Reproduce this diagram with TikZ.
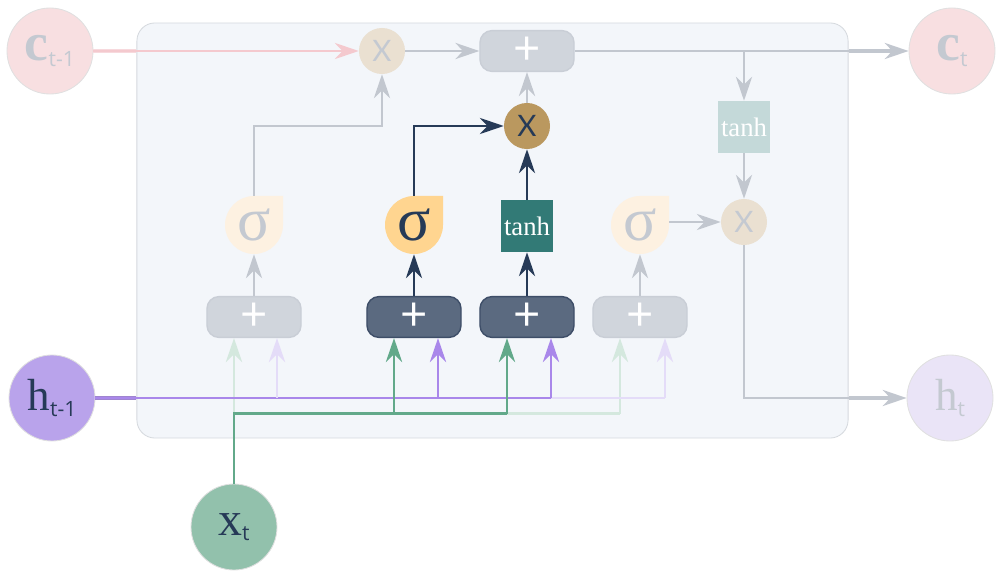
\documentclass[tikz,border=0pt]{standalone}
\usepackage{fontspec}
\setmainfont{Liberation Serif}
\newfontfamily\subfont{Open Sans}
\newfontfamily\opfont{Lato}
\usetikzlibrary{positioning, arrows.meta, calc}

\definecolor{cellbg}{HTML}{F3F6FA}
\definecolor{cellrim}{HTML}{D5D9DE}
\definecolor{navy}{HTML}{263A57}
\definecolor{fadetext}{HTML}{C4C9D1}
\definecolor{grayflow}{HTML}{C2C7CF}
\definecolor{pinkfill}{HTML}{F8DFE1}
\definecolor{pinkflow}{HTML}{F4C9CE}
\definecolor{beige}{HTML}{EAE0D1}
\definecolor{gold}{HTML}{BA985F}
\definecolor{plusfade}{HTML}{D0D5DC}
\definecolor{plusfaderim}{HTML}{C9CED6}
\definecolor{plusdark}{HTML}{5B6A80}
\definecolor{plusdarkrim}{HTML}{3E4E68}
\definecolor{sigfade}{HTML}{FDF1E1}
\definecolor{sigon}{HTML}{FFD590}
\definecolor{teal}{HTML}{327A76}
\definecolor{tealfade}{HTML}{C4D9D9}
\definecolor{lilac}{HTML}{A987EA}
\definecolor{lilacfade}{HTML}{E4DCF8}
\definecolor{hprevfill}{HTML}{B9A3EB}
\definecolor{hnextfill}{HTML}{EAE4F7}
\definecolor{sage}{HTML}{62A98A}
\definecolor{sagefade}{HTML}{D4E8DE}
\definecolor{xfill}{HTML}{92C1AC}

\tikzset{
    tip/.style={-{Stealth[length=17pt, width=11.5pt, inset=5.5pt]}},
    flow/.style={line width=2.1pt, tip},
    io/.style={circle, minimum size=2.15cm, inner sep=0pt, draw=black!12, line width=0.6pt},
    mult/.style={circle, minimum size=1.15cm, inner sep=0pt, font=\opfont\fontsize{21}{21}\selectfont},
    adder/.style={rectangle, rounded corners=0.3cm, minimum width=2.35cm, minimum height=1.02cm,
        line width=1pt, text=white, font=\subfont\fontsize{34}{34}\selectfont},
    gate/.style={circle, minimum size=1.45cm, inner sep=0pt, font=\fontsize{44}{44}\selectfont},
    squash/.style={rectangle, minimum width=1.32cm, minimum height=1.3cm, inner sep=0pt,
        text=white, font=\fontsize{19}{19}\selectfont},
    teardrop/.pic={
        \path[pic actions] (0,-29) -- (29,-29) -- (29,0) arc[start angle=0, end angle=270, radius=29] -- cycle;
    },
}

% state label: big letter with a sans subscript
\newcommand{\statevar}[3]{{\fontsize{#1}{#1}\selectfont #2}\raisebox{-4pt}{\subfont\fontsize{15}{15}\selectfont #3}}

\begin{document}
\begin{tikzpicture}[x=0.025cm, y=-0.025cm]
    \useasboundingbox (0,0) rectangle (996,571);

    % cell body
    \node[rectangle, rounded corners=0.45cm, minimum width=17.775cm, minimum height=10.375cm,
          fill=cellbg, draw=cellrim, line width=0.6pt] (cell) at (492.5,230.5) {};

    % sigmoid drops
    \pic[fill=sigfade] at (254,225) {teardrop};
    \pic[fill=sigon]   at (414,225) {teardrop};
    \pic[fill=sigfade] at (640,225) {teardrop};

    % inputs and outputs
    \node[io, fill=pinkfill, text=fadetext]  (cprev) at (50,51)   {\statevar{38}{\bfseries c}{t-1}};
    \node[io, fill=pinkfill, text=fadetext]  (cnext) at (952,51)  {\statevar{38}{\bfseries c}{t}};
    \node[io, fill=hprevfill, text=navy]     (hprev) at (52,398)  {\statevar{32}{h}{t-1}};
    \node[io, fill=hnextfill, text=fadetext] (hnext) at (950,398) {\statevar{32}{h}{t}};
    \node[io, fill=xfill, text=navy]         (xt)    at (234,527) {\statevar{34}{x}{t}};

    % pointwise ops
    \node[mult, fill=beige, text=fadetext] (fmul) at (382,51)  {X};
    \node[mult, fill=gold, text=navy]      (mmul) at (527,126) {X};
    \node[mult, fill=beige, text=fadetext] (omul) at (744,222) {X};
    \node[adder, fill=plusfade, draw=plusfaderim] (add) at (527,51) {+};

    % gates
    \node[gate, text=fadetext] (fg) at (254,225) {σ};
    \node[gate, text=navy]     (ig) at (414,225) {σ};
    \node[gate, text=fadetext] (og) at (640,225) {σ};
    \node[squash, fill=teal]     (ctanh) at (527,226) {tanh};
    \node[squash, fill=tealfade] (tout)  at (744,127) {tanh};

    \node[adder, fill=plusfade, draw=plusfaderim] (fplus) at (254,317) {+};
    \node[adder, fill=plusdark, draw=plusdarkrim] (iplus) at (414,317) {+};
    \node[adder, fill=plusdark, draw=plusdarkrim] (cplus) at (527,317) {+};
    \node[adder, fill=plusfade, draw=plusfaderim] (oplus) at (640,317) {+};

    % bus taps
    \coordinate (hf) at ($(fplus.south |- hprev)+(23,0)$);
    \coordinate (hi) at ($(iplus.south |- hprev)+(24,0)$);
    \coordinate (hc) at ($(cplus.south |- hprev)+(24,0)$);
    \coordinate (ho) at ($(oplus.south |- hprev)+(25,0)$);
    \coordinate (xbus) at ($(xt.north)+(0,-70)$);
    \coordinate (xi) at ($(iplus.south |- xbus)+(-20,0)$);
    \coordinate (xc) at ($(cplus.south |- xbus)+(-20,0)$);
    \coordinate (xo) at ($(oplus.south |- xbus)+(-20,0)$);

    % cell state line
    \draw[line width=3pt, pinkflow!70] (cprev.east) -- (cprev -| cell.west);
    \draw[flow, pinkflow] (cprev) -- (fmul);
    \draw[flow, grayflow] (fmul) -- (add);
    \draw[flow, grayflow] (add) -- (cnext);
    \draw[line width=3pt, grayflow, shorten >=12pt] (add -| cell.east) -- (cnext.west);
    \draw[flow, grayflow] (add -| tout) -- (tout);
    \draw[flow, grayflow] (tout) -- (omul);
    \draw[flow, grayflow] (omul) |- (hnext);
    \draw[line width=3pt, grayflow, shorten >=12pt] (hnext -| cell.east) -- (hnext.west);

    % forget path
    \draw[flow, grayflow] (fplus) -- (fg);
    \draw[flow, grayflow] (fg) -- (fg |- mmul) -| (fmul);

    % input and candidate path
    \draw[flow, navy] (iplus) -- (ig);
    \draw[flow, navy] (ig) |- (mmul);
    \draw[flow, navy] (cplus) -- (ctanh);
    \draw[flow, navy] (ctanh) -- (mmul);
    \draw[flow, grayflow] (mmul) -- (add);

    % output path
    \draw[flow, grayflow] (oplus) -- (og);
    \draw[flow, grayflow] (og.east |- omul) -- (omul);

    % x_t bus (faded part)
    \draw[line width=2.1pt, sagefade] (xc) -- (xo);
    \draw[flow, sagefade] (xbus) -- (fplus.south -| xbus);
    \draw[flow, sagefade] (xo) -- (oplus.south -| xo);

    % h_{t-1} bus
    \draw[line width=3pt, lilac!75!gray] (hprev.east) -- (hprev -| cell.west);
    \draw[line width=2.1pt, lilac] (hprev) -- (hc);
    \draw[line width=2.1pt, lilacfade] (hc) -- (ho);
    \draw[flow, lilacfade] (hf) -- (fplus.south -| hf);
    \draw[flow, lilac] (hi) -- (iplus.south -| hi);
    \draw[flow, lilac] (hc) -- (cplus.south -| hc);
    \draw[flow, lilacfade] (ho) -- (oplus.south -| ho);

    % x_t bus
    \draw[line width=2.1pt, sage] (xt) |- (xc);
    \draw[flow, sage] (xi) -- (iplus.south -| xi);
    \draw[flow, sage] (xc) -- (cplus.south -| xc);
\end{tikzpicture}
\end{document}
